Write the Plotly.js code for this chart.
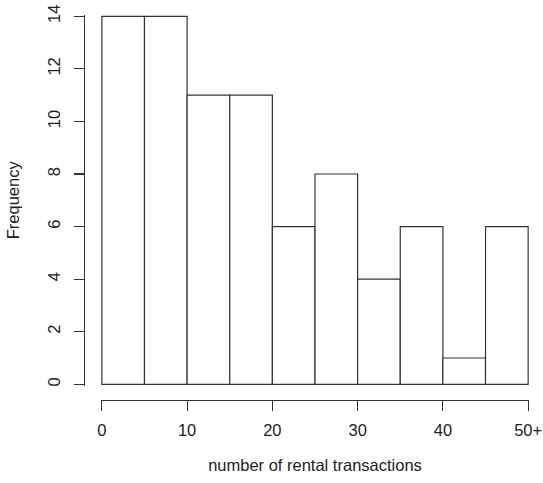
<!DOCTYPE html>
<html>
<head>
<meta charset="utf-8">
<script src="https://cdn.plot.ly/plotly-3.0.1.min.js"></script>
<style>html,body{margin:0;padding:0;background:#fff;}#chart{width:543px;height:483px;}</style>
</head>
<body>
<div id="chart"></div>
<script>
// Histogram bins (lower edges, width 5) and counts
const binStarts = [0, 5, 10, 15, 20, 25, 30, 35, 40, 45];
const binWidth = 5;
const counts = [14, 14, 11, 11, 6, 8, 4, 6, 1, 6];
const xTickVals = [0, 10, 20, 30, 40, 50];
const xTickText = ["0", "10", "20", "30", "40", "50+"];
const yTickVals = [0, 2, 4, 6, 8, 10, 12, 14];

const centers = binStarts.map(s => s + binWidth / 2);
const fontFam = '"Liberation Sans", Arial, sans-serif';
const ink = '#222222';
const fs = 16.5;

const trace = {
  type: 'bar',
  x: centers,
  y: counts,
  width: binStarts.map(() => binWidth),
  marker: {color: '#ffffff', line: {color: '#333333', width: 1.2}},
  hoverinfo: 'skip'
};

const layout = {
  width: 543, height: 483,
  margin: {l: 84, r: 14, t: 15, b: 83},
  paper_bgcolor: '#ffffff', plot_bgcolor: '#ffffff',
  showlegend: false,
  bargap: 0,
  font: {family: fontFam, size: fs, color: ink},
  xaxis: {
    domain: [0.0382, 1],
    range: [-0.1, 50.1],
    anchor: 'free', position: 0,
    showgrid: false, zeroline: false,
    showline: true, linecolor: '#333333', linewidth: 1.2,
    ticks: 'outside', ticklen: 10, tickwidth: 1.2, tickcolor: '#333333',
    tickmode: 'array', tickvals: xTickVals, ticktext: xTickText,
    ticklabelstandoff: 5,
    tickfont: {family: fontFam, size: fs, color: ink},
    title: {text: 'number of rental transactions', font: {family: fontFam, size: fs, color: ink}, standoff: 21}
  },
  yaxis: {
    domain: [0.0374, 1],
    range: [-0.05, 14.05],
    anchor: 'free', position: 0,
    showgrid: false, zeroline: false,
    showline: true, linecolor: '#333333', linewidth: 1.2,
    ticks: 'outside', ticklen: 10, tickwidth: 1.2, tickcolor: '#333333',
    tickmode: 'array', tickvals: yTickVals,
    tickangle: -90,
    ticklabelstandoff: 7,
    tickfont: {family: fontFam, size: fs, color: ink},
    title: {text: 'Frequency', font: {family: fontFam, size: fs, color: ink}, standoff: 20}
  }
};

Plotly.newPlot('chart', [trace], layout, {displayModeBar: false, staticPlot: true});
</script>
</body>
</html>
